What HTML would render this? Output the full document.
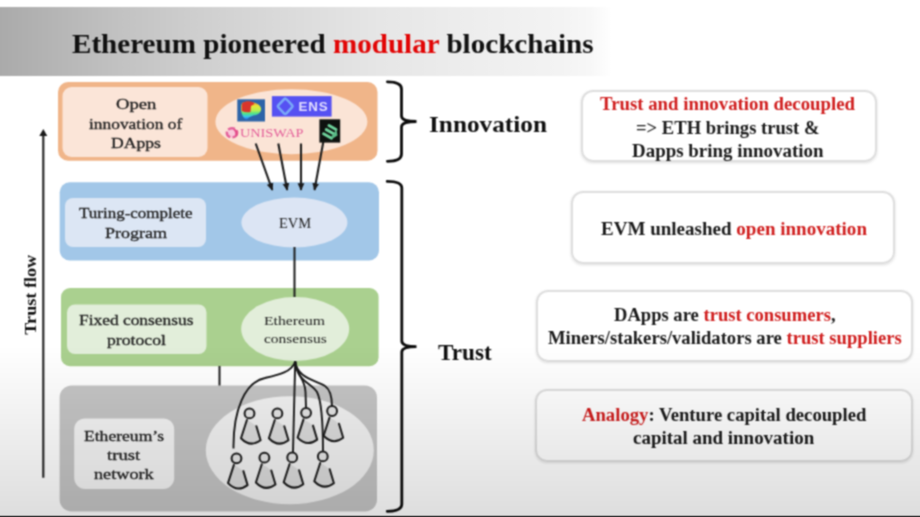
<!DOCTYPE html>
<html><head><meta charset="utf-8">
<style>
*{margin:0;padding:0;box-sizing:border-box}
html,body{width:920px;height:517px;overflow:hidden}
body{position:relative;font-family:"Liberation Serif",serif;color:#222;
background:#fff;}
#ov{left:0;top:0;width:920px;height:517px;background:linear-gradient(to bottom,rgba(0,0,0,0) 0px,rgba(0,0,0,0) 345px,rgba(0,0,0,0.13) 514px)}
.a{position:absolute}
#hdr{left:0;top:7px;width:920px;height:69px;
background:linear-gradient(to right,#aaa 0px,#c2c2c2 120px,#cfcfcf 200px,#dcdcdc 300px,#e6e6e6 380px,#eeeeee 480px,#f3f3f3 560px,#f7f7f7 590px,#fff 612px);}
.red{color:#d01d1d}
.red2{color:#e20606}
.bx{position:absolute;border-radius:9px}
.t{position:absolute;white-space:nowrap;line-height:1;transform-origin:0 0}
.rb{position:absolute;border:2px solid #dedede;border-radius:12px;box-shadow:0 1px 3px rgba(0,0,0,0.13)}
.rg{-webkit-text-stroke-width:0.3px}
#blk{left:0;top:515.6px;width:920px;height:1.4px;background:#000}
</style></head><body>
<svg width="0" height="0" style="position:absolute"><filter id="fb" x="0" y="0" width="100%" height="100%" color-interpolation-filters="sRGB"><feConvolveMatrix order="3" kernelMatrix="1 2 1 2 5 2 1 2 1" divisor="17" edgeMode="duplicate"/></filter></svg>
<div id="wrap" style="position:absolute;left:0;top:0;width:920px;height:517px;filter:url(#fb)">
<div id="hdr" class="a"></div>

<!-- right boxes -->
<div class="rb" style="left:580.6px;top:90.4px;width:296px;height:71.8px"></div>
<div class="rb" style="left:570.5px;top:191.4px;width:324.5px;height:72.4px"></div>
<div class="rb" style="left:536px;top:289.8px;width:376.5px;height:72px"></div>
<div class="rb" style="left:534.5px;top:389.3px;width:378px;height:73.2px"></div>

<svg class="a" style="left:0;top:0" width="920" height="517" viewBox="0 0 920 517">
<defs>
 <g id="p">
  <path d="M-2.6,6.6 L-8.5,24.8 Q0.8,34.5 11.1,26.8 L6.9,12.8 Q2,8.5 -2.6,6.6Z" fill="#dcdcdc" stroke="none"/>
  <path d="M-2.6,6.6 L-8.5,24.8 Q0.8,34.5 11.1,26.8 L6.9,12.8" fill="none" stroke="#1c1c1c" stroke-width="2" stroke-linejoin="round" stroke-linecap="round"/>
  <circle cx="0" cy="0" r="4.9" fill="#e4e4e4" stroke="#1c1c1c" stroke-width="2"/>
 </g>
 <marker id="ah" viewBox="0 0 10 10" refX="9" refY="5" markerWidth="3.6" markerHeight="3.6" orient="auto">
  <path d="M0,0.5 L10,5 L0,9.5z" fill="#1a1a1a"/>
 </marker>
</defs>
<!-- orange -->
<rect x="58" y="82" width="319.5" height="78.8" rx="10" fill="#f0b589"/>
<rect x="62.5" y="87" width="145" height="70" rx="9" fill="#fbe5d8"/>
<ellipse cx="291.4" cy="121.7" rx="76" ry="32.5" fill="#fbe4d6"/>
<!-- blue -->
<rect x="59.7" y="182.2" width="319.3" height="78.2" rx="10" fill="#a2c7e8"/>
<rect x="65" y="198" width="141" height="49" rx="8" fill="#dce6f4"/>
<ellipse cx="294.4" cy="222.5" rx="53" ry="25" fill="#dce5f4"/>
<!-- green -->
<rect x="61" y="288" width="317.6" height="78.2" rx="9" fill="#aad08f"/>
<rect x="67" y="304.5" width="139.5" height="49.5" rx="8" fill="#e2eeda"/>
<ellipse cx="295.2" cy="329" rx="54" ry="32" fill="#e2eeda"/>
<!-- gray -->
<rect x="59.6" y="385.4" width="317.4" height="126" rx="12" fill="#c5c5c5"/>
<rect x="74.2" y="418.4" width="100" height="70.6" rx="11" fill="#f4f4f4"/>
<ellipse cx="289.8" cy="450.2" rx="84" ry="54" fill="#f2f2f2"/>

<!-- connectors -->
<g stroke="#1c1c1c" stroke-width="2" fill="none">
 <line x1="294.5" y1="247" x2="294.5" y2="297"/>
 <line x1="219.5" y1="366" x2="219.5" y2="385.5"/>
</g>
<g stroke="#1c1c1c" stroke-width="2.1" fill="none" marker-end="url(#ah)">
 <line x1="255.7" y1="143.5" x2="272.3" y2="190"/>
 <line x1="278.3" y1="143.5" x2="287.2" y2="190"/>
 <line x1="301" y1="143.5" x2="301" y2="190"/>
 <line x1="323.4" y1="141.4" x2="314.5" y2="190"/>
</g>
<!-- trust flow arrow -->
<line x1="43.3" y1="477.7" x2="43.3" y2="134" stroke="#2a2a2a" stroke-width="2.2"/>
<path d="M39.3,136 L43.3,129 L47.3,136Z" fill="#1a1a1a"/>
<!-- braces -->
<g stroke="#0c0c0c" stroke-width="2.8" fill="none" stroke-linecap="round">
 <path d="M387.4,81.8 Q401.5,81.8 401.5,89 L401.5,116 Q401.5,121.5 416.5,121.5 Q401.5,121.5 401.5,127 L401.5,154 Q401.5,161.3 387.4,161.3"/>
 <path d="M387.2,181.4 Q401.8,181.4 401.8,188 L401.8,341 Q401.8,346.6 416.5,346.6 Q401.8,346.6 401.8,352 L401.8,504 Q401.8,511.3 387.2,511.3"/>
</g>
<!-- fan curves -->
<g stroke="#1a1a1a" stroke-width="1.9" fill="none">
 <path d="M295.2,361.4 C292,372 278,375 265,378 C245,382 233,410 233.5,448.6"/>
 <path d="M295.2,361.4 L293,452"/>
 <path d="M295.2,361.4 C296,375 305,378 305.5,392 L306,407.5"/>
 <path d="M295.2,361.4 C297,378 315,380 325,386 C331,390 332,398 332,406.5"/>
 <path d="M295.2,361.4 C297,382 312,383 317,392 C322,402 323,425 323,451.5"/>
</g>
<!-- people -->
<use href="#p" x="249.5" y="413.4"/>
<use href="#p" x="277.4" y="413.4"/>
<use href="#p" x="306.1" y="412.8"/>
<use href="#p" x="332.1" y="411"/>
<use href="#p" x="236.5" y="458.3"/>
<use href="#p" x="264.4" y="457.7"/>
<use href="#p" x="292.2" y="457.4"/>
<use href="#p" x="322.8" y="456.4"/>

<!-- logos -->
<defs>
 <linearGradient id="rg" x1="0" y1="0" x2="0" y2="1">
  <stop offset="0" stop-color="#f08a2a"/>
  <stop offset="0.25" stop-color="#e9e83a"/>
  <stop offset="0.5" stop-color="#b7f050"/>
  <stop offset="0.68" stop-color="#4fe08a"/>
  <stop offset="0.84" stop-color="#39c8e8"/>
  <stop offset="1" stop-color="#2a6ef0"/>
 </linearGradient>
</defs>
<rect x="237.3" y="99.3" width="27.7" height="22.2" fill="#2d64a8"/>
<path d="M242,103 Q246,100.5 251,102 Q259,103 261,108 Q262,113 256,115 Q250,116 248,118.5 Q246,120.5 244,118 Q241,114 241,108 Q241,105 242,103Z" fill="url(#rg)"/>
<path d="M242.3,103 Q246,100.3 251,101.6 Q254,102.4 254.5,104 L251,106 L250.5,112 Q246,113 241.8,111 Q241.3,106 242.3,103Z" fill="#d8352c"/>
<rect x="271.9" y="96.1" width="59.7" height="20.5" fill="#5651f2"/>
<path d="M285.2,98.6 Q286,98.6 292.2,105.4 Q293,106.3 292.2,107.2 L286.2,113.6 Q285.2,114.5 284.2,113.6 L278.2,107.2 Q277.4,106.3 278.2,105.4 L284.2,99.1 Q285,98.6 285.2,98.6Z" fill="none" stroke="#7aaaf8" stroke-width="2.5" stroke-linejoin="round"/>
<text x="298.6" y="111" font-family="Liberation Sans" font-weight="bold" font-size="13.4" fill="#e2deff" letter-spacing="0.8">ENS</text>
<rect x="319.4" y="119.3" width="20.8" height="23.3" fill="#0e120f"/>
<g stroke="#6fd39c" stroke-width="3" stroke-linecap="round" fill="none">
 <line x1="329" y1="125.5" x2="336" y2="129.5"/>
 <line x1="326.3" y1="129.6" x2="334.5" y2="134.2"/>
 <line x1="323.6" y1="133.7" x2="331.5" y2="138.2"/>
</g>
<path d="M336.5,129.5 L337.5,135.5 L332,139 L331,137 Z" fill="#59b985"/>
<!-- uniswap unicorn -->
<ellipse cx="232" cy="132.8" rx="5.2" ry="4.6" fill="#f9c8da" stroke="#e4609a" stroke-width="2.4" stroke-dasharray="7 2.2"/>
<path d="M234,128.5 Q238.5,130 238,134.5 Q237,137 235,136.5 Q236,132 233.5,130Z" fill="#e4508c"/>
</svg>

<div class="t" style="left:71.77px;top:29.90px;font-size:28.2px;font-weight:bold;color:#111;transform:scaleX(1.0327)">Ethereum pioneered <span class="red2">modular</span> blockchains</div>
<div class="t" style="left:429.38px;top:113.70px;font-size:22.5px;font-weight:bold;color:#111;transform:scaleX(1.1231)">Innovation</div>
<div class="t" style="left:437.50px;top:341.90px;font-size:22.5px;font-weight:bold;color:#111;transform:scaleX(1.0308)">Trust</div>
<div class="t" style="left:600.00px;top:95.20px;font-size:18.5px;font-weight:bold;color:#1a1a1a;transform:scaleX(1.0159)"><span class="red">Trust and innovation decoupled</span></div>
<div class="t" style="left:635.79px;top:118.50px;font-size:18.5px;font-weight:bold;color:#1a1a1a;transform:scaleX(1.0050)">=&gt; ETH brings trust &amp;</div>
<div class="t" style="left:631.90px;top:141.80px;font-size:18.5px;font-weight:bold;color:#1a1a1a;transform:scaleX(1.0230)">Dapps bring innovation</div>
<div class="t" style="left:600.60px;top:219.90px;font-size:18.5px;font-weight:bold;color:#1a1a1a;transform:scaleX(1.0287)">EVM unleashed <span class="red">open innovation</span></div>
<div class="t" style="left:613.50px;top:306.20px;font-size:18.5px;font-weight:bold;color:#1a1a1a;transform:scaleX(1.0041)">DApps are <span class="red">trust consumers</span>,</div>
<div class="t" style="left:547.80px;top:328.60px;font-size:18.5px;font-weight:bold;color:#1a1a1a;transform:scaleX(1.0060)">Miners/stakers/validators are <span class="red">trust suppliers</span></div>
<div class="t" style="left:581.70px;top:406.00px;font-size:18.5px;font-weight:bold;color:#1a1a1a;transform:scaleX(1.0089)"><span class="red">Analogy</span>: Venture capital decoupled</div>
<div class="t" style="left:632.88px;top:428.50px;font-size:18.5px;font-weight:bold;color:#1a1a1a;transform:scaleX(1.0246)">capital and innovation</div>
<div class="t rg" style="left:115.88px;top:96.00px;font-size:15.3px;color:#1e1e1e;transform:scaleX(1.2194)">Open</div>
<div class="t rg" style="left:89.06px;top:115.70px;font-size:15.3px;color:#1e1e1e;transform:scaleX(1.1370)">innovation of</div>
<div class="t rg" style="left:110.75px;top:134.80px;font-size:15.3px;color:#1e1e1e;transform:scaleX(1.1524)">DApps</div>
<div class="t rg" style="left:79.00px;top:205.40px;font-size:15.3px;color:#1e1e1e;transform:scaleX(1.1108)">Turing-complete</div>
<div class="t rg" style="left:104.92px;top:224.70px;font-size:15.3px;color:#1e1e1e;transform:scaleX(1.1784)">Program</div>
<div class="t rg" style="left:79.16px;top:312.40px;font-size:15.3px;color:#1e1e1e;transform:scaleX(1.1364)">Fixed consensus</div>
<div class="t rg" style="left:107.14px;top:331.60px;font-size:15.3px;color:#1e1e1e;transform:scaleX(1.1571)">protocol</div>
<div class="t" style="left:264.39px;top:314.20px;font-size:13px;color:#1e1e1e;transform:scaleX(1.2082)">Ethereum</div>
<div class="t" style="left:263.81px;top:332.00px;font-size:13px;color:#1e1e1e;transform:scaleX(1.1902)">consensus</div>
<div class="t" style="left:278.67px;top:217.30px;font-size:14px;color:#1e1e1e;transform:scaleX(1.0345)">EVM</div>
<div class="t rg" style="left:84.35px;top:427.50px;font-size:15.3px;color:#1e1e1e;transform:scaleX(1.1485)">Ethereum’s</div>
<div class="t rg" style="left:107.08px;top:446.60px;font-size:15.3px;color:#1e1e1e;transform:scaleX(1.2231)">trust</div>
<div class="t rg" style="left:94.11px;top:465.90px;font-size:15.3px;color:#1e1e1e;transform:scaleX(1.1898)">network</div>
<div class="t" style="left:239.86px;top:127.40px;font-size:12.5px;color:#e4609a;transform:scaleX(1.1407)">UNISWAP</div>
<div class="t" style="left:0;top:0;font-size:17px;font-weight:bold;color:#111;transform:translate(22.30px,334.70px) rotate(-90deg) scaleX(1.0693)">Trust flow</div>

<div id="ov" class="a"></div>
<div id="blk" class="a"></div>
</div>
</body></html>
